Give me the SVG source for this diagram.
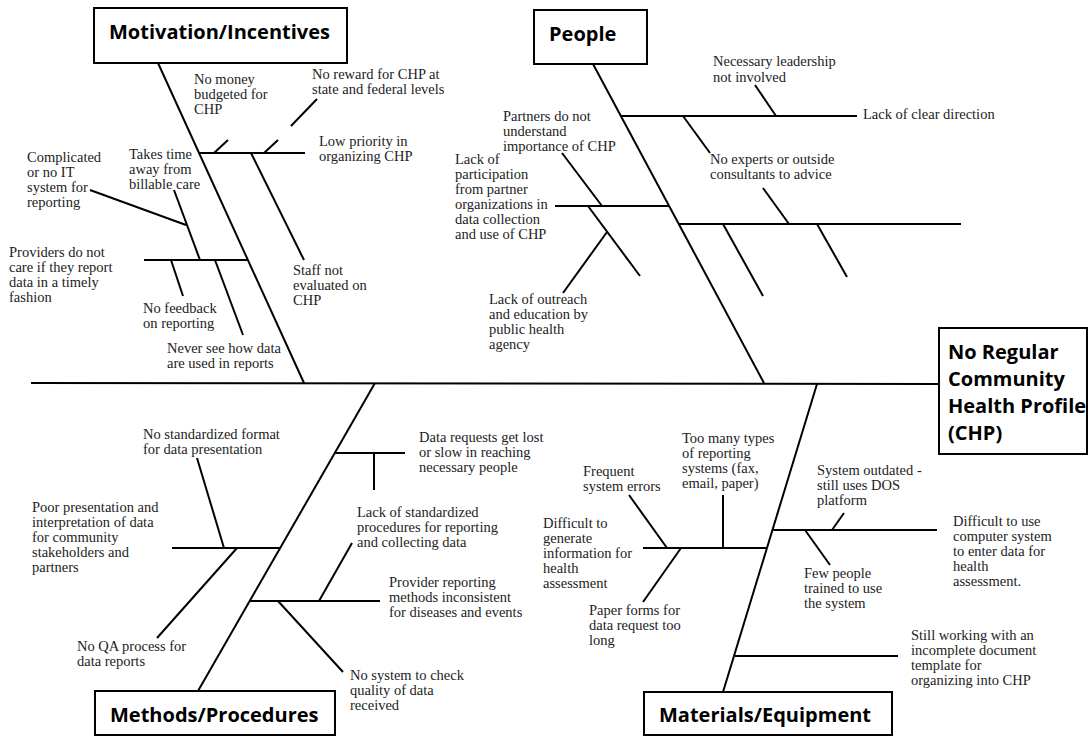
<svg xmlns="http://www.w3.org/2000/svg" width="1088" height="736" viewBox="0 0 1088 736">
<style>
.box{fill:#fff;stroke:#000;stroke-width:2}
.title{font-family:"Open Sans","Noto Sans",sans-serif;font-weight:bold;font-size:20px;fill:#000}
.lbl{font-family:"Liberation Serif","Times New Roman",serif;font-size:14.5px;fill:#222}
.ln{stroke:#000;stroke-width:2;fill:none;stroke-linecap:butt}
</style>
<rect width="1088" height="736" fill="#fff"/>
<g id="connectors" class="ln">
<line x1="31" y1="383" x2="939" y2="384"/>
<line x1="158" y1="63" x2="304" y2="383"/>
<line x1="199" y1="153" x2="305" y2="153"/>
<line x1="214" y1="153" x2="228" y2="140"/>
<line x1="264" y1="153" x2="278" y2="140"/>
<line x1="291" y1="126" x2="317" y2="99"/>
<line x1="251" y1="153" x2="304" y2="260"/>
<line x1="144" y1="260" x2="248" y2="260"/>
<line x1="174" y1="190" x2="200" y2="260"/>
<line x1="90" y1="190" x2="186" y2="225"/>
<line x1="171" y1="260" x2="183" y2="296"/>
<line x1="215" y1="260" x2="243" y2="335"/>
<line x1="593" y1="64" x2="764" y2="383"/>
<line x1="621" y1="116" x2="857" y2="116"/>
<line x1="755" y1="85" x2="776" y2="116"/>
<line x1="683" y1="116" x2="710" y2="153"/>
<line x1="678" y1="224" x2="961" y2="224"/>
<line x1="763" y1="188" x2="789" y2="224"/>
<line x1="723" y1="224" x2="763" y2="296"/>
<line x1="817" y1="224" x2="847" y2="277"/>
<line x1="555" y1="206" x2="669" y2="206"/>
<line x1="562" y1="153" x2="602" y2="206"/>
<line x1="588" y1="206" x2="640" y2="276"/>
<line x1="563" y1="293" x2="607" y2="232"/>
<line x1="198" y1="691" x2="375" y2="383"/>
<line x1="334" y1="453" x2="405" y2="453"/>
<line x1="374" y1="453" x2="374" y2="490"/>
<line x1="172" y1="548" x2="280" y2="548"/>
<line x1="197" y1="458" x2="224" y2="548"/>
<line x1="237" y1="548" x2="157" y2="638"/>
<line x1="250" y1="601" x2="380" y2="601"/>
<line x1="352" y1="543" x2="319" y2="601"/>
<line x1="278" y1="601" x2="343" y2="672"/>
<line x1="723" y1="692" x2="817" y2="384"/>
<line x1="772" y1="530" x2="937" y2="530"/>
<line x1="832" y1="530" x2="844" y2="513"/>
<line x1="805" y1="530" x2="830" y2="565"/>
<line x1="643" y1="548" x2="767" y2="548"/>
<line x1="629" y1="495" x2="667" y2="548"/>
<line x1="723" y1="495" x2="723" y2="548"/>
<line x1="643" y1="602" x2="681" y2="548"/>
<line x1="735" y1="656" x2="898" y2="656"/>
</g>
<g id="motivation"><rect class="box" x="94" y="8" width="253" height="55"/><text class="title" x="109" y="39">Motivation/Incentives</text></g>
<g id="people"><rect class="box" x="534" y="10" width="113" height="54"/><text class="title" x="549" y="41">People</text></g>
<g id="effect"><rect class="box" x="939" y="328" width="148" height="126"/><text class="title"><tspan x="948" y="359">No Regular</tspan><tspan x="948" y="386">Community</tspan><tspan x="948" y="413">Health Profile</tspan><tspan x="948" y="440">(CHP)</tspan></text></g>
<g id="methods"><rect class="box" x="95" y="691" width="240" height="44"/><text class="title" x="110" y="722">Methods/Procedures</text></g>
<g id="materials"><rect class="box" x="644" y="692" width="248" height="43"/><text class="title" x="659" y="722">Materials/Equipment</text></g>
<g id="m1"><text class="lbl"><tspan x="194" y="84">No money</tspan><tspan x="194" y="99">budgeted for</tspan><tspan x="194" y="114">CHP</tspan></text></g>
<g id="m2"><text class="lbl"><tspan x="312" y="79">No reward for CHP at</tspan><tspan x="312" y="94">state and federal levels</tspan></text></g>
<g id="m3"><text class="lbl"><tspan x="319" y="146">Low priority in</tspan><tspan x="319" y="161">organizing CHP</tspan></text></g>
<g id="m4"><text class="lbl"><tspan x="129" y="159">Takes time</tspan><tspan x="129" y="174">away from</tspan><tspan x="129" y="189">billable care</tspan></text></g>
<g id="m5"><text class="lbl"><tspan x="27" y="162">Complicated</tspan><tspan x="27" y="177">or no IT</tspan><tspan x="27" y="192">system for</tspan><tspan x="27" y="207">reporting</tspan></text></g>
<g id="m6"><text class="lbl"><tspan x="9" y="257">Providers do not</tspan><tspan x="9" y="272">care if they report</tspan><tspan x="9" y="287">data in a timely</tspan><tspan x="9" y="302">fashion</tspan></text></g>
<g id="m7"><text class="lbl"><tspan x="143" y="313">No feedback</tspan><tspan x="143" y="328">on reporting</tspan></text></g>
<g id="m8"><text class="lbl"><tspan x="167" y="353">Never see how data</tspan><tspan x="167" y="368">are used in reports</tspan></text></g>
<g id="m9"><text class="lbl"><tspan x="293" y="275">Staff not</tspan><tspan x="293" y="290">evaluated on</tspan><tspan x="293" y="305">CHP</tspan></text></g>
<g id="p1"><text class="lbl"><tspan x="713" y="66">Necessary leadership</tspan><tspan x="713" y="82">not involved</tspan></text></g>
<g id="p2"><text class="lbl" x="863" y="119">Lack of clear direction</text></g>
<g id="p3"><text class="lbl"><tspan x="710" y="164">No experts or outside</tspan><tspan x="710" y="179">consultants to advice</tspan></text></g>
<g id="p4"><text class="lbl"><tspan x="503" y="121">Partners do not</tspan><tspan x="503" y="136">understand</tspan><tspan x="503" y="151">importance of CHP</tspan></text></g>
<g id="p5"><text class="lbl"><tspan x="455" y="164">Lack of</tspan><tspan x="455" y="179">participation</tspan><tspan x="455" y="194">from partner</tspan><tspan x="455" y="209">organizations in</tspan><tspan x="455" y="224">data collection</tspan><tspan x="455" y="239">and use of CHP</tspan></text></g>
<g id="p6"><text class="lbl"><tspan x="489" y="304">Lack of outreach</tspan><tspan x="489" y="319">and education by</tspan><tspan x="489" y="334">public health</tspan><tspan x="489" y="349">agency</tspan></text></g>
<g id="me1"><text class="lbl"><tspan x="419" y="442">Data requests get lost</tspan><tspan x="419" y="457">or slow in reaching</tspan><tspan x="419" y="472">necessary people</tspan></text></g>
<g id="me2"><text class="lbl"><tspan x="357" y="517">Lack of standardized</tspan><tspan x="357" y="532">procedures for reporting</tspan><tspan x="357" y="547">and collecting data</tspan></text></g>
<g id="me3"><text class="lbl"><tspan x="143" y="439">No standardized format</tspan><tspan x="143" y="454">for data presentation</tspan></text></g>
<g id="me4"><text class="lbl"><tspan x="32" y="512">Poor presentation and</tspan><tspan x="32" y="527">interpretation of data</tspan><tspan x="32" y="542">for community</tspan><tspan x="32" y="557">stakeholders and</tspan><tspan x="32" y="572">partners</tspan></text></g>
<g id="me5"><text class="lbl"><tspan x="389" y="587">Provider reporting</tspan><tspan x="389" y="602">methods inconsistent</tspan><tspan x="389" y="617">for diseases and events</tspan></text></g>
<g id="me6"><text class="lbl"><tspan x="77" y="651">No QA process for</tspan><tspan x="77" y="666">data reports</tspan></text></g>
<g id="me7"><text class="lbl"><tspan x="350" y="680">No system to check</tspan><tspan x="350" y="695">quality of data</tspan><tspan x="350" y="710">received</tspan></text></g>
<g id="ma1"><text class="lbl"><tspan x="682" y="443">Too many types</tspan><tspan x="682" y="458">of reporting</tspan><tspan x="682" y="473">systems (fax,</tspan><tspan x="682" y="488">email, paper)</tspan></text></g>
<g id="ma2"><text class="lbl"><tspan x="583" y="476">Frequent</tspan><tspan x="583" y="491">system errors</tspan></text></g>
<g id="ma3"><text class="lbl"><tspan x="543" y="528">Difficult to</tspan><tspan x="543" y="543">generate</tspan><tspan x="543" y="558">information for</tspan><tspan x="543" y="573">health</tspan><tspan x="543" y="588">assessment</tspan></text></g>
<g id="ma4"><text class="lbl"><tspan x="589" y="615">Paper forms for</tspan><tspan x="589" y="630">data request too</tspan><tspan x="589" y="645">long</tspan></text></g>
<g id="ma5"><text class="lbl"><tspan x="817" y="475">System outdated -</tspan><tspan x="817" y="490">still uses DOS</tspan><tspan x="817" y="505">platform</tspan></text></g>
<g id="ma6"><text class="lbl"><tspan x="953" y="526">Difficult to use</tspan><tspan x="953" y="541">computer system</tspan><tspan x="953" y="556">to enter data for</tspan><tspan x="953" y="571">health</tspan><tspan x="953" y="586">assessment.</tspan></text></g>
<g id="ma7"><text class="lbl"><tspan x="804" y="578">Few people</tspan><tspan x="804" y="593">trained to use</tspan><tspan x="804" y="608">the system</tspan></text></g>
<g id="ma8"><text class="lbl"><tspan x="911" y="640">Still working with an</tspan><tspan x="911" y="655">incomplete document</tspan><tspan x="911" y="670">template for</tspan><tspan x="911" y="685">organizing into CHP</tspan></text></g>
</svg>
